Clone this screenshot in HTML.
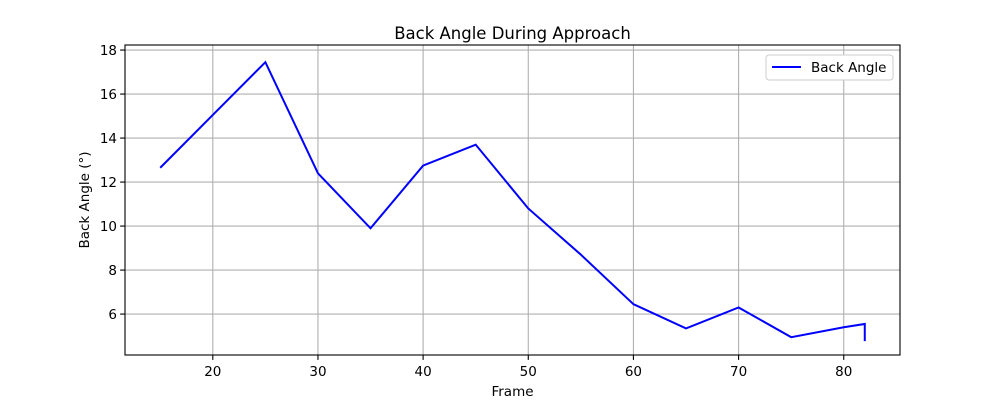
<!DOCTYPE html>
<html><head><meta charset="utf-8"><style>
body{margin:0;background:#fff;font-family:"Liberation Sans","DejaVu Sans",sans-serif}
svg text{font-family:"DejaVu Sans","Liberation Sans",sans-serif;fill:#000}
</style></head><body>
<svg id="chart" width="1000" height="400" xmlns="http://www.w3.org/2000/svg"></svg>
<script>
const frames=[15,20,25,30,35,40,45,50,55,60,65,70,75,80,82,82];
const backAngle=[12.65,15.05,17.45,12.4,9.9,12.75,13.7,10.8,8.7,6.45,5.35,6.3,4.95,5.4,5.55,4.77];
const xTicks=[20,30,40,50,60,70,80];
const yTicks=[6,8,10,12,14,16,18];
const L=125,R=900,T=45,B=355;
const xmin=11.65,xmax=85.35,ymin=4.14,ymax=18.23;
const X=v=>L+(v-xmin)/(xmax-xmin)*(R-L);
const Y=v=>B-(v-ymin)/(ymax-ymin)*(B-T);
const svg=document.getElementById('chart');
const NS='http://www.w3.org/2000/svg';
function mk(t,a,p){const e=document.createElementNS(NS,t);for(const k in a)e.setAttribute(k,a[k]);(p||svg).appendChild(e);return e;}
xTicks.forEach(v=>{
 const g=mk('line',{x1:X(v),x2:X(v),y1:T,y2:B,stroke:'#b0b0b0','stroke-width':1.1});
 
 
 mk('line',{x1:X(v),x2:X(v),y1:B,y2:B+4.9,stroke:'#000','stroke-width':1.1});
 const t=mk('text',{x:X(v),y:B+21,'text-anchor':'middle','font-size':13.5});t.textContent=v;
 
 
});
yTicks.forEach(v=>{
 const g=mk('line',{x1:L,x2:R,y1:Y(v),y2:Y(v),stroke:'#b0b0b0','stroke-width':1.1});
 
 
 mk('line',{x1:L-4.9,x2:L,y1:Y(v),y2:Y(v),stroke:'#000','stroke-width':1.1});
 const t=mk('text',{x:L-8,y:Y(v)+5,'text-anchor':'end','font-size':13.5});t.textContent=v;
 
 
});
const line=mk('polyline',{points:frames.map((f,i)=>X(f)+','+Y(backAngle[i])).join(' '),fill:'none',stroke:'#0000ff','stroke-width':2});


const fr=mk('rect',{x:L,y:T,width:R-L,height:B-T,fill:'none',stroke:'#000','stroke-width':1.1});


const tt=mk('text',{x:(L+R)/2,y:T-6,'text-anchor':'middle','font-size':16.5});tt.textContent='Back Angle During Approach';


const xl=mk('text',{x:(L+R)/2,y:396,'text-anchor':'middle','font-size':13.5});xl.textContent='Frame';


const yl=mk('text',{x:0,y:0,'text-anchor':'middle','font-size':13.5,transform:`translate(89,${(T+B)/2}) rotate(-90)`});yl.textContent='Back Angle (°)';


const lg=mk('g',{});


mk('rect',{x:766,y:55,width:127,height:25,rx:3,fill:'#fff',stroke:'#ccc','stroke-width':1},lg);
mk('line',{x1:772,x2:801,y1:67,y2:67,stroke:'#0000ff','stroke-width':2},lg);
const lt=mk('text',{x:811,y:72,'font-size':13.5},lg);lt.textContent='Back Angle';


</script>
</body></html>
